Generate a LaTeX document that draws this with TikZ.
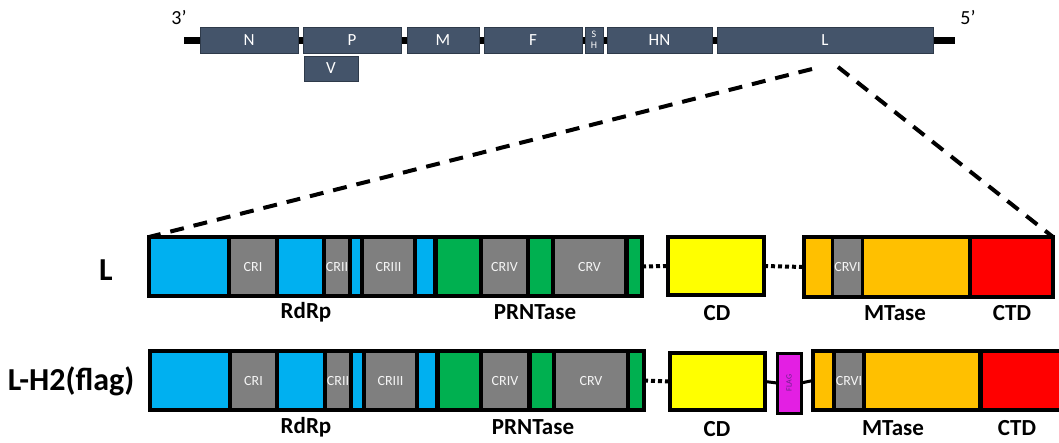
\documentclass[tikz,border=0pt]{standalone}
\usepackage{fontspec}
\setmainfont{Carlito}
\definecolor{geneFill}{HTML}{44546A}
\definecolor{geneEdge}{HTML}{2E3A4A}
\definecolor{rdrpBlue}{HTML}{00B0F0}
\definecolor{crGray}{HTML}{7F7F7F}
\definecolor{prnGreen}{HTML}{00B050}
\definecolor{cdYellow}{HTML}{FFFF00}
\definecolor{mtOrange}{HTML}{FFC000}
\definecolor{ctdRed}{HTML}{FF0000}
\definecolor{flagPink}{HTML}{E31FE3}
\definecolor{flagText}{HTML}{6A1F8A}
% one rectangle given by its left, right, top and bottom edges
\newcommand\seg[7]{%
  \pgfmathsetmacro\segw{#3-#2}\pgfmathsetmacro\segh{#5-#4}%
  \pgfmathsetmacro\segx{(#2+#3)/2}\pgfmathsetmacro\segy{(#4+#5)/2}%
  \node[#6, minimum width=\segw pt, minimum height=\segh pt] (#1) at (\segx,\segy) {#7};%
}
\tikzset{
  box/.style={rectangle, inner sep=0pt, outer sep=0pt},
  gene/.style={box, fill=geneFill, draw=geneEdge, line width=1pt, text=white,
    font=\fontsize{17}{17}\selectfont},
  frame/.style={box, fill=black, draw=black, line width=4pt},
  single/.style={box, draw=black, line width=3.5pt},
  blu/.style={box, fill=rdrpBlue},
  gry/.style={box, fill=crGray, text=white!92!gray, font=\fontsize{14}{14}\selectfont},
  grn/.style={box, fill=prnGreen},
  org/.style={box, fill=mtOrange},
  rd/.style={box, fill=ctdRed},
  domlabel/.style={font=\bfseries\fontsize{23}{23}\selectfont},
  rowlabel/.style={font=\bfseries\fontsize{32}{32}\selectfont},
  endlabel/.style={font=\fontsize{20}{20}\selectfont},
  zoomline/.style={line width=4pt, dash pattern=on 14pt off 10pt},
  dotline/.style={line width=4pt, dash pattern=on 4pt off 3pt},
  tie/.style={line width=3pt},
}
\begin{document}
\begin{tikzpicture}[x=1pt, y=-1pt]
\clip (0,0) rectangle (1059,442);
\fill[white] (0,0) rectangle (1059,442);

% genome
\coordinate (g3) at (184,40);
\coordinate (g5) at (955,40);
\draw[line width=7pt] (g3) -- (g5);
\seg{gN}{200}{298}{27}{53}{gene}{N}
\seg{gP}{303}{401}{27}{53}{gene}{P}
\seg{gM}{407}{479}{27}{53}{gene}{M}
\seg{gF}{484}{582}{27}{53}{gene}{F}
\seg{gSH}{585}{603}{27}{53}{gene, align=center, font=\fontsize{10}{11}\selectfont}{S\\H}
\seg{gHN}{607}{712}{27}{53}{gene}{HN}
\seg{gL}{717}{933}{27}{53}{gene}{L}
\seg{gV}{304}{358}{56}{81}{gene}{V}
\node[endlabel] (t3) at (179,18) {3’};
\node[endlabel] (t5) at (968,18) {5’};

% row L
\seg{fa1}{149}{642}{237}{296}{frame}{}
\seg{b11}{151}{227}{239}{294}{blu}{}
\seg{c11}{231}{275}{239}{294}{gry}{CRI}
\seg{b12}{279}{322}{239}{294}{blu}{}
\seg{c12}{326}{348}{239}{294}{gry}{CRII}
\seg{b13}{352}{360}{239}{294}{blu}{}
\seg{c13}{364}{413}{239}{294}{gry}{CRIII}
\seg{b14}{417}{433}{239}{294}{blu}{}
\seg{n11}{438}{479}{239}{294}{grn}{}
\seg{c14}{483}{526}{239}{294}{gry}{CRIV}
\seg{n12}{530}{551}{239}{294}{grn}{}
\seg{c15}{555}{624}{239}{294}{gry}{CRV}
\seg{n13}{629}{640}{239}{294}{grn}{}
\seg{cd1}{668}{764}{237}{295}{single, fill=cdYellow}{}
\seg{fb1}{804}{1053}{237}{297}{frame}{}
\seg{o11}{806}{831}{239}{295}{org}{}
\seg{c16}{835}{860}{239}{295}{gry}{CRVI}
\seg{o12}{864}{968}{239}{295}{org}{}
\seg{r11}{972}{1051}{239}{295}{rd}{}
\draw[dotline] (fa1.east) -- (cd1.west);
\draw[dotline] (cd1.east) -- (fb1.west);
\node[rowlabel] (lab1) at (106,270) {L};
\node[domlabel] (d11) at (306,312) {RdRp};
\node[domlabel] (d12) at (535,312) {PRNTase};
\node[domlabel] (d13) at (717,313) {CD};
\node[domlabel] (d14) at (895,313) {MTase};
\node[domlabel] (d15) at (1012,313) {CTD};

% zoom lines from the L gene
\coordinate (zl) at (812,69);
\coordinate (zr) at (838,67);
\draw[zoomline] (zl) -- (fa1.north west);
\draw[zoomline] (zr) -- (fb1.north east);

% row L-H2(flag)
\seg{fa2}{150}{644}{351}{410}{frame}{}
\seg{b21}{152}{228}{353}{408}{blu}{}
\seg{c21}{232}{275}{353}{408}{gry}{CRI}
\seg{b22}{279}{323}{353}{408}{blu}{}
\seg{c22}{327}{349}{353}{408}{gry}{CRII}
\seg{b23}{353}{362}{353}{408}{blu}{}
\seg{c23}{366}{415}{353}{408}{gry}{CRIII}
\seg{b24}{419}{435}{353}{408}{blu}{}
\seg{n21}{440}{479}{353}{408}{grn}{}
\seg{c24}{483}{527}{353}{408}{gry}{CRIV}
\seg{n22}{532}{552}{353}{408}{grn}{}
\seg{c25}{556}{626}{353}{408}{gry}{CRV}
\seg{n23}{630}{642}{353}{408}{grn}{}
\seg{cd2}{670}{765}{353}{410}{single, fill=cdYellow}{}
\seg{flag}{777}{801}{353}{413}{single, line width=3pt, fill=flagPink}{}
\node[rotate=90, text=flagText, font=\fontsize{8}{8}\selectfont] (flagtxt) at (flag.center) {FLAG};
\seg{fb2}{813}{1066}{351}{410}{frame}{}
\seg{o21}{815}{832}{353}{408}{org}{}
\seg{c26}{836}{862}{353}{408}{gry}{CRVI}
\seg{o22}{866}{978}{353}{408}{org}{}
\seg{r21}{983}{1064}{353}{408}{rd}{}
\draw[dotline] (fa2.east) -- (cd2.west);
\draw[tie] (cd2.east) -- (flag.west);
\draw[tie] (flag.east) -- (fb2.west);
\node[rowlabel] (lab2) at (71,381) {L-H2(flag)};
\node[domlabel] (d21) at (306,427) {RdRp};
\node[domlabel] (d22) at (533,427) {PRNTase};
\node[domlabel] (d23) at (717,429) {CD};
\node[domlabel] (d24) at (893,428) {MTase};
\node[domlabel] (d25) at (1017,428) {CTD};
\end{tikzpicture}
\end{document}
